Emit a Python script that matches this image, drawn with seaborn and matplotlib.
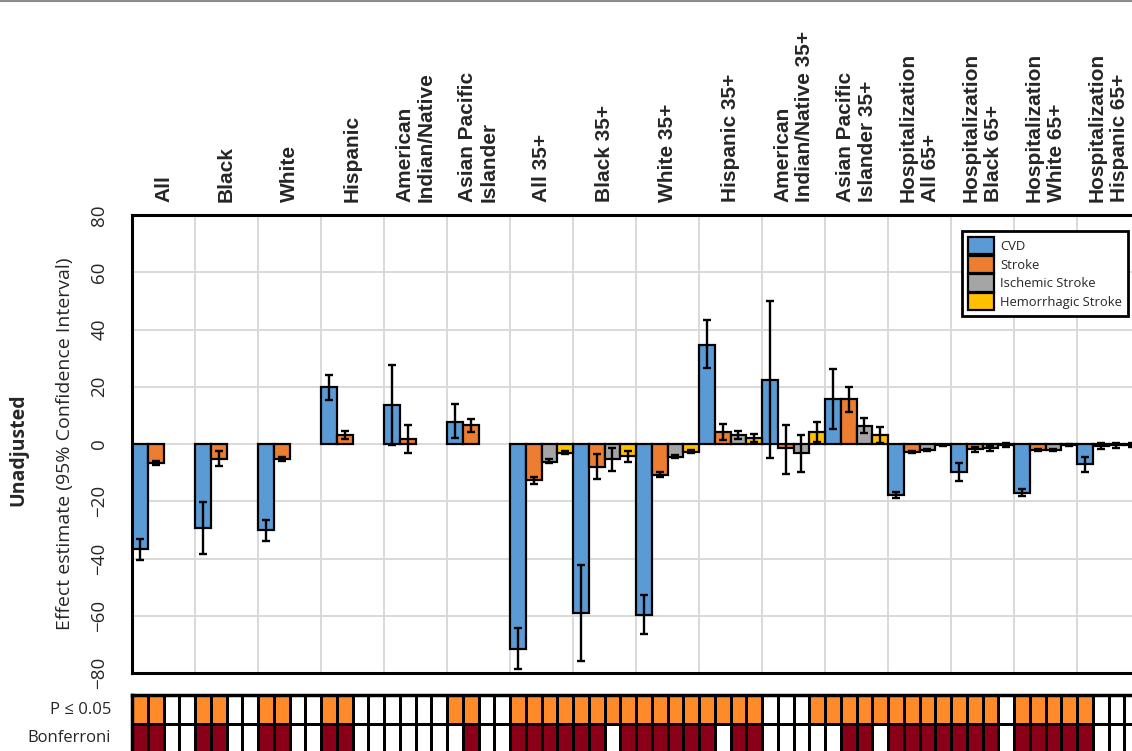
import numpy as np
import pandas as pd
import matplotlib
matplotlib.use("Agg")
import matplotlib.pyplot as plt
from matplotlib.colors import ListedColormap
import seaborn as sns

# groups (top labels) and outcomes
groups = ["All", "Black", "White", "Hispanic", "American\nIndian/Native",
          "Asian Pacific\nIslander", "All 35+", "Black 35+", "White 35+",
          "Hispanic 35+", "American\nIndian/Native 35+", "Asian Pacific\nIslander 35+",
          "Hospitalization\nAll 65+", "Hospitalization\nBlack 65+",
          "Hospitalization\nWhite 65+", "Hospitalization\nHispanic 65+"]
outcomes = ["CVD", "Stroke", "Ischemic Stroke", "Hemorrhagic Stroke"]
palette = ["#5B9BD5", "#ED7D31", "#A5A5A5", "#FFC000"]
nan = np.nan

# effect estimates with 95% CI
cvd_est = [-36.8, -29.2, -30.2, 19.9, 13.7, 7.8, -71.5, -59.1, -59.8, 34.7, 22.2, 15.8, -17.9, -9.7, -17.1, -7.1]
cvd_lo = [-40.5, -38.4, -33.9, 15.2, -0.3, 2.0, -78.7, -75.8, -66.4, 26.5, -5.0, 5.3, -18.8, -12.9, -18.2, -9.7]
cvd_hi = [-33.1, -20.2, -26.7, 24.0, 27.7, 13.9, -64.3, -42.1, -52.6, 43.2, 49.9, 26.3, -16.7, -6.5, -15.6, -4.4]

stroke_est = [-6.8, -5.1, -5.3, 3.2, 1.75, 6.7, -12.6, -8.0, -10.9, 4.1, -1.5, 15.8, -2.9, -1.8, -2.1, -0.8]
stroke_lo = [-7.4, -7.6, -5.8, 1.8, -3.3, 4.3, -14.0, -12.4, -11.5, 1.4, -10.5, 11.1, -3.3, -2.7, -2.4, -1.9]
stroke_hi = [-5.8, -2.3, -4.7, 4.6, 6.7, 8.8, -11.5, -3.6, -9.7, 6.9, 6.7, 19.8, -2.5, -0.9, -1.8, 0.3]

isch_est = [nan] * 6 + [-6.2, -5.4, -4.4, 3.2, -3.3, 6.4, -2.1, -1.5, -2.1, -0.5]
isch_lo = [nan] * 6 + [-6.8, -9.4, -4.9, 1.6, -9.7, 3.7, -2.4, -2.3, -2.4, -1.4]
isch_hi = [nan] * 6 + [-5.4, -1.5, -3.9, 4.6, 3.2, 9.2, -1.8, -0.7, -1.8, 0.4]

hem_est = [nan] * 6 + [-3.0, -4.2, -2.7, 2.0, 4.3, 3.2, -0.5, -0.3, -0.4, -0.2]
hem_lo = [nan] * 6 + [-3.5, -6.2, -3.0, 0.8, 0.8, 0.5, -0.8, -0.9, -0.7, -0.9]
hem_hi = [nan] * 6 + [-2.3, -2.3, -2.1, 3.4, 7.8, 5.8, -0.2, 0.3, -0.1, 0.5]

# significance flags, one row of 4 (CVD, Stroke, Ischemic, Hemorrhagic) per group
p05 = [[1, 1, 0, 0], [1, 1, 0, 0], [1, 1, 0, 0], [1, 1, 0, 0],
       [0, 0, 0, 0], [1, 1, 0, 0], [1, 1, 1, 1], [1, 1, 1, 1],
       [1, 1, 1, 1], [1, 1, 1, 1], [0, 0, 0, 1], [1, 1, 1, 1],
       [1, 1, 1, 1], [1, 1, 1, 0], [1, 1, 1, 1], [1, 0, 0, 0]]
bonf = [[1, 1, 0, 0], [1, 1, 0, 0], [1, 1, 0, 0], [1, 1, 0, 0],
        [0, 0, 0, 0], [0, 1, 0, 0], [1, 1, 1, 1], [1, 1, 0, 1],
        [1, 1, 1, 1], [1, 0, 1, 1], [0, 0, 0, 0], [0, 1, 1, 0],
        [1, 1, 1, 1], [1, 1, 1, 0], [1, 1, 1, 1], [1, 0, 0, 0]]
sig_labels = ["P \u2264 0.05", "Bonferroni"]

# long table for seaborn
rows = []
series = [(cvd_est, cvd_lo, cvd_hi), (stroke_est, stroke_lo, stroke_hi),
          (isch_est, isch_lo, isch_hi), (hem_est, hem_lo, hem_hi)]
for outcome, (est, lo, hi) in zip(outcomes, series):
    for g, e, l, h in zip(groups, est, lo, hi):
        rows.append({"group": g, "outcome": outcome, "est": e, "lo": l, "hi": h})
df = pd.DataFrame(rows).dropna()

sns.set_theme(style="white")
plt.rcParams["font.family"] = ["Open Sans", "DejaVu Sans"]

W, H = 1132, 751
fig = plt.figure(figsize=(W / 100, H / 100), dpi=100)
ax = fig.add_axes([132 / W, 1 - 673 / H, 1008 / W, 458 / H])

sns.barplot(data=df, x="group", y="est", hue="outcome", order=groups,
            hue_order=outcomes, palette=palette, width=1.0, saturation=1,
            errorbar=None, edgecolor="black", linewidth=1.6, ax=ax)

# confidence intervals on top of the bars seaborn drew
ci = df.set_index(["group", "outcome"])
for cont, outcome in zip(ax.containers, outcomes):
    for bar in cont:
        xc = bar.get_x() + bar.get_width() / 2
        g = groups[int(round(xc))]
        e, l, h = ci.loc[(g, outcome), ["est", "lo", "hi"]]
        ax.errorbar(xc, e, yerr=[[e - l], [h - e]], fmt="none", ecolor="black",
                    elinewidth=1.7, capsize=3, capthick=1.7, zorder=5)

ax.set_xlim(-0.5, len(groups) - 0.5)
ax.set_ylim(-80, 80)
ax.set_yticks(range(-80, 81, 20))
ax.set_xticks(np.arange(-0.5, len(groups), 1), minor=True)
ax.grid(which="minor", axis="x", color="#D9D9D9", lw=1.4)
ax.grid(which="major", axis="y", color="#D9D9D9", lw=1.4)
ax.set_axisbelow(True)
for sp in ax.spines.values():
    sp.set_color("black")
    sp.set_linewidth(2.2)

# category labels along the top
ax.set_xlabel("")
ax.xaxis.set_ticks_position("top")
ax.tick_params(axis="x", which="both", length=0, labeltop=True, labelbottom=False,
               pad=9, labelrotation=90)
for lbl in ax.get_xticklabels():
    lbl.set_fontfamily("Liberation Sans")
    lbl.set_fontweight("bold")
    lbl.set_fontsize(15)
    lbl.set_multialignment("left")

ax.tick_params(axis="y", length=0, pad=17, labelsize=13.5, labelrotation=90)
for lbl in ax.get_yticklabels():
    lbl.set_va("center")
ax.set_ylabel("Effect estimate (95% Confidence Interval)", fontsize=14)
ax.yaxis.set_label_coords(-0.058, 0.5)
fig.text(18 / W, 1 - 450 / H, "Unadjusted", rotation=90, fontsize=14,
         fontweight="bold", ha="center", va="center")

leg = ax.legend(loc="upper right", bbox_to_anchor=(1128 / W, 1 - 231 / H),
                bbox_transform=fig.transFigure, fancybox=False, framealpha=1,
                edgecolor="black", borderaxespad=0, fontsize=9.4, title=None,
                handlelength=2.0, handleheight=1.65, labelspacing=0.12,
                borderpad=0.45, handletextpad=0.45)
leg.get_frame().set_linewidth(2)

# significance table below the chart
mat = np.vstack([np.array(p05).ravel() * 1, np.array(bonf).ravel() * 2])
tab = fig.add_axes([132 / W, 1 - 753 / H, 1008 / W, 58 / H])
sns.heatmap(mat, ax=tab, cmap=ListedColormap(["white", "#FF8A2A", "#8A0018"]),
            vmin=-0.5, vmax=2.5, cbar=False, linewidths=1.9, linecolor="black",
            xticklabels=False, yticklabels=sig_labels)
tab.tick_params(axis="y", length=0, pad=15, labelsize=12, labelrotation=0)
for sp in tab.spines.values():
    sp.set_visible(True)
    sp.set_color("black")
    sp.set_linewidth(2.5)

fig.add_artist(plt.Line2D([0, 1], [1 - 1 / H, 1 - 1 / H], color="#8C8C8C", lw=1.5,
                          transform=fig.transFigure))

fig.savefig("out.png", dpi=100)
